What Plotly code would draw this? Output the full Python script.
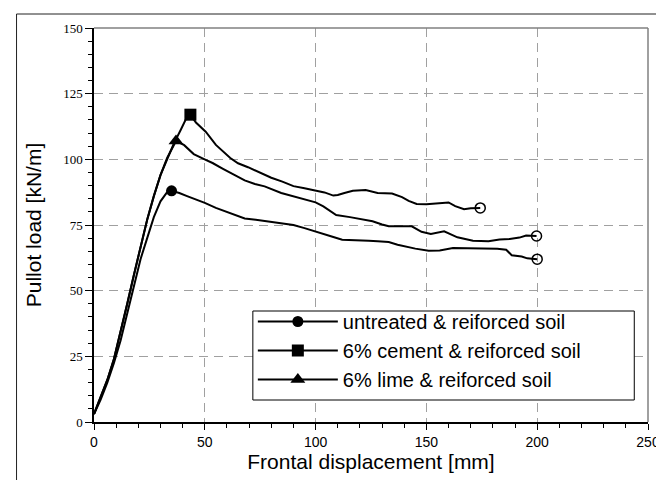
import plotly.graph_objects as go

# ---- data ----
untreated_x = [0, 3, 6, 9, 12, 15, 18, 21, 24, 27, 30, 33, 35, 38.5, 42, 46, 50, 55, 60, 64, 68, 73, 78, 84,
               90, 95, 100, 104, 108, 112, 118, 124, 128, 133, 137, 140, 145, 151, 156, 162, 170, 176, 182,
               186, 188.5, 193, 195.5, 200]
untreated_y = [3, 8.5, 15, 22.5, 31, 41, 52, 62, 70, 78, 84, 87.5, 88, 87.2, 86, 84.8, 83.4, 81.5, 80, 78.5,
               77.5, 77, 76.4, 75.8, 75, 73.8, 72.6, 71.5, 70.4, 69.4, 69.3, 69, 68.8, 68.5, 67.5, 66.9, 66,
               65.2, 65.3, 66.2, 66.2, 66, 66, 65.6, 63.5, 63, 62.3, 62]

cement_x = [0, 3, 6, 9, 12, 15, 18, 21, 24, 27, 30, 33, 36, 39, 41.6, 43.5, 46, 50.4, 55, 61.5, 65, 69.5,
            75, 80, 85, 90, 95, 100, 104, 108, 110, 113, 116.8, 122.6, 128, 134.5, 139, 142, 145.6, 150,
            156.6, 160, 163, 167, 170, 174.3]
cement_y = [3, 9.5, 16, 24, 34, 45, 56, 67, 77, 86, 94, 100, 106, 111, 115.5, 117, 114, 110.5, 105.5, 100.5,
            98.5, 97, 95, 93, 91.5, 89.8, 89, 88, 87.4, 86.2, 86.4, 87.2, 88, 88.3, 87.2, 87, 85.6, 84.2,
            83, 82.9, 83.4, 83.6, 82.2, 81, 81.4, 81.5]

lime_x = [0, 3, 6, 9, 12, 15, 18, 21, 24, 27, 30, 33, 37, 40.7, 45, 50.4, 53.5, 58, 63.7, 68, 72.6, 77,
          84.5, 90, 95, 100, 103.5, 106.6, 109.3, 115.5, 120, 125.7, 130, 133, 138, 143.4, 147.8, 152, 158,
          164, 171, 178, 183, 187.6, 192, 195, 199.7]
lime_y = [3, 9.5, 16, 24, 34, 45, 56, 67, 77, 86, 94, 100.5, 107, 105.4, 102, 99.8, 98.6, 96.5, 94.1, 92,
          90.6, 89.7, 87.2, 86, 84.8, 83.6, 82.1, 80.3, 78.8, 78, 77.4, 76.4, 75.2, 74.5, 74.5, 74.5, 72.4,
          71.6, 72.6, 70.3, 69, 68.8, 69.5, 69.7, 70.2, 71, 70.8]

series_names = ["untreated & reiforced soil", "6% cement & reiforced soil", "6% lime & reiforced soil"]
series_symbols = ["circle", "square", "triangle-up"]
series_sizes = [11, 12, 13]

x_ticks = [0, 50, 100, 150, 200, 250]
y_ticks = [0, 25, 50, 75, 100, 125, 150]

# ---- figure ----
fig = go.Figure()
series = [(untreated_x, untreated_y), (cement_x, cement_y), (lime_x, lime_y)]

for (xs, ys), name, sym, sz in zip(series, series_names, series_symbols, series_sizes):
    fig.add_trace(go.Scatter(x=xs, y=ys, mode="lines", line=dict(color="black", width=2),
                             showlegend=False, hoverinfo="skip"))
    # end marker (open circle)
    fig.add_trace(go.Scatter(x=[xs[-1]], y=[ys[-1]], mode="markers",
                             marker=dict(symbol="circle-open", size=10, color="black", line=dict(width=1.5)),
                             showlegend=False))
for (xs, ys), name, sym, sz in zip(series, series_names, series_symbols, series_sizes):
    i = ys.index(max(ys))
    fig.add_trace(go.Scatter(x=[xs[i]], y=[ys[i]], mode="lines+markers", name=name,
                             line=dict(color="black", width=2),
                             marker=dict(symbol=sym, size=sz, color="black")))

L, R, T, B = 86, 13, 20, 66
W, H = 664, 480
pw, ph = W - L - R, H - T - B

def px(xp):
    return (xp - L) / pw

def py(yp):
    return (H - B - yp) / ph

fig.update_layout(
    width=W, height=H,
    margin=dict(l=L, r=R, t=T, b=B),
    paper_bgcolor="white", plot_bgcolor="white",
    font=dict(family="Liberation Sans, Arial, sans-serif", color="black"),
    showlegend=True,
    legend=dict(x=px(248), y=py(294), xanchor="left", yanchor="top",
                bgcolor="rgba(0,0,0,0)", borderwidth=0,
                font=dict(size=20, family="Liberation Sans, Arial, sans-serif"),
                itemwidth=80, tracegroupgap=0),
    xaxis=dict(range=[0, 250], tickvals=x_ticks, ticktext=[str(v) for v in x_ticks],
               ticks="outside", ticklen=6, tickwidth=1, tickcolor="black",
               showline=True, linecolor="black", linewidth=1.5,
               showgrid=True, gridcolor="#a0a0a0", griddash="9px,6px", gridwidth=1,
               zeroline=False,
               minor=dict(dtick=10, tick0=0, ticks="outside", ticklen=4, tickcolor="black", showgrid=False),
               tickfont=dict(family="Liberation Sans, Arial, sans-serif", size=14),
               title=dict(text="Frontal displacement [mm]", font=dict(size=21), standoff=6)),
    yaxis=dict(range=[0, 150], tickvals=y_ticks, ticktext=[str(v) for v in y_ticks],
               ticks="outside", ticklen=7, tickwidth=1, tickcolor="black",
               showline=True, linecolor="black", linewidth=1.5,
               showgrid=True, gridcolor="#a0a0a0", griddash="9px,6px", gridwidth=1,
               zeroline=False,
               minor=dict(dtick=5, tick0=0, ticks="outside", ticklen=4, tickcolor="black", showgrid=False),
               tickfont=dict(family="Liberation Serif, Times New Roman, serif", size=13),
               title=dict(text="Pullot load [kN/m]", font=dict(size=21), standoff=16)),
    shapes=[
        dict(type="line", xref="paper", yref="paper", x0=0, x1=1, y0=1, y1=1,
             line=dict(color="#808080", width=1.5)),
        dict(type="line", xref="paper", yref="paper", x0=1, x1=1, y0=0, y1=1,
             line=dict(color="#808080", width=1.5)),
        dict(type="rect", xref="paper", yref="paper", x0=px(7), x1=px(672), y0=py(488), y1=py(6),
             line=dict(color="#222222", width=1)),
        # legend frame
        dict(type="rect", xref="paper", yref="paper", x0=px(248), x1=px(637), y0=py(392), y1=py(303),
             line=dict(color="black", width=1), fillcolor="white", layer="above"),
    ],
)

fig.write_html("out.html")
